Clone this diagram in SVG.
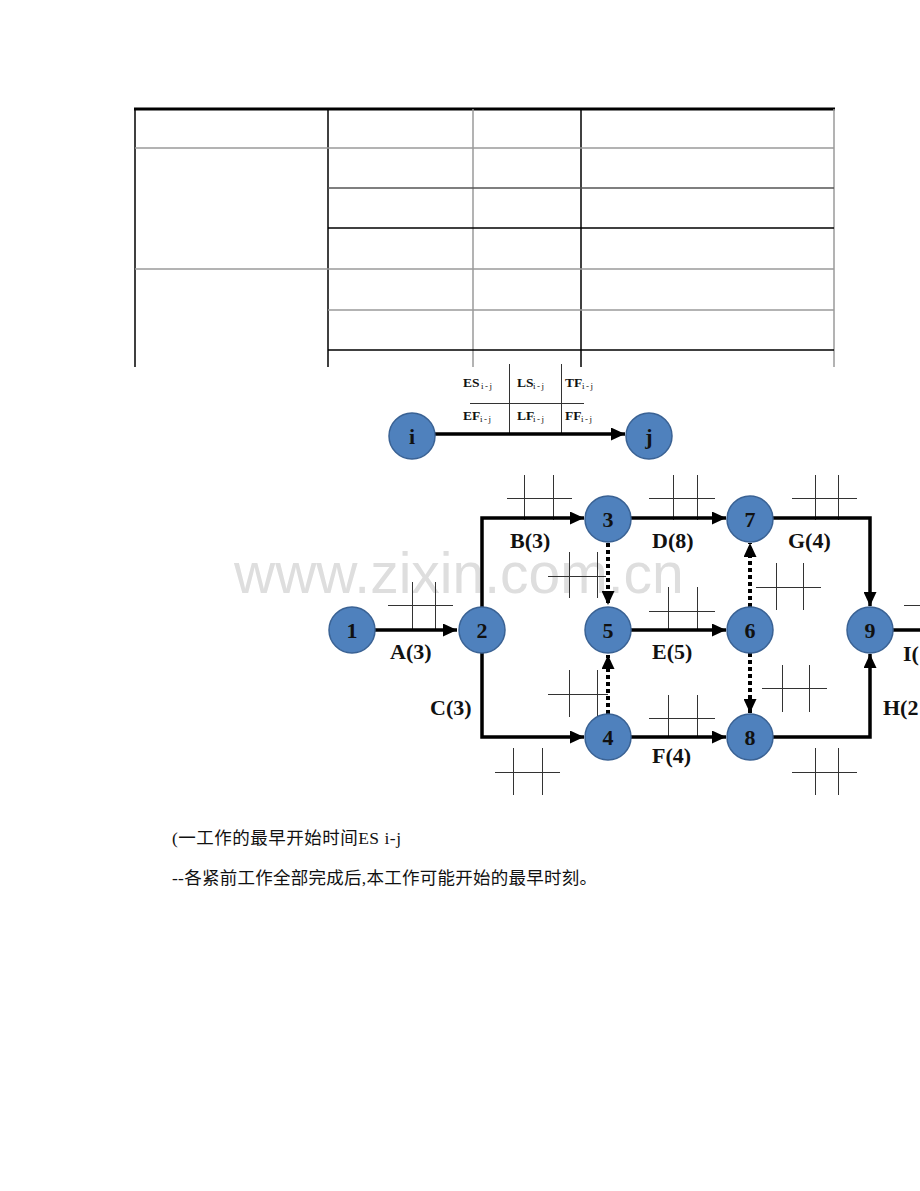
<svg xmlns="http://www.w3.org/2000/svg" width="920" height="1191" viewBox="0 0 920 1191">
<style>
.tb{stroke:#000;stroke-width:1.5;fill:none}
.tg{stroke:#9a9a9a;stroke-width:1.5;fill:none}
.grid{stroke:#333;stroke-width:1;fill:none;shape-rendering:crispEdges}
.edge{stroke:#000;stroke-width:3.5;fill:none;marker-end:url(#ah)}
.dot{stroke:#000;stroke-width:4;fill:none;stroke-dasharray:4 3;marker-end:url(#ah)}
.node{fill:#4f81bd;stroke:#3a6294;stroke-width:1.5}
.nl{font-family:"Liberation Serif","Times New Roman",serif;font-weight:bold;font-size:22px;fill:#111;text-anchor:middle}
.el{font-family:"Liberation Serif","Times New Roman",serif;font-weight:bold;font-size:22px;fill:#111}
.lg{font-family:"Liberation Serif","Times New Roman",serif;font-size:13.5px;fill:#111;font-weight:bold}
.sb{font-family:"Liberation Serif","Times New Roman",serif;font-size:9px;fill:#111}
.cn{font-family:"Liberation Serif","Noto Sans CJK SC",serif;font-size:17.5px;fill:#111}
.wm{font-family:"Liberation Sans",Arial,sans-serif;font-size:57px;fill:#dedede}
</style>
<defs>
<marker id="ah" markerUnits="userSpaceOnUse" markerWidth="14" markerHeight="13" refX="14" refY="6.5" orient="auto">
<path d="M0,0 L14,6.5 L0,13 z" fill="#000"/>
</marker>
</defs>
<rect width="920" height="1191" fill="#fff"/>

<g id="table">
<line x1="134" y1="109" x2="835" y2="109" stroke="#000" stroke-width="3"/>
<line class="tb" x1="135" y1="109" x2="135" y2="367"/>
<line class="tb" x1="328" y1="109" x2="328" y2="367"/>
<line class="tg" x1="473" y1="109" x2="473" y2="367"/>
<line class="tb" x1="581" y1="109" x2="581" y2="367"/>
<line class="tg" x1="834" y1="109" x2="834" y2="367"/>
<line class="tg" x1="135" y1="148" x2="834" y2="148"/>
<line x1="328" y1="188" x2="834" y2="188" stroke="#555" stroke-width="1.5"/>
<line class="tb" x1="328" y1="228" x2="834" y2="228"/>
<line class="tg" x1="135" y1="269" x2="834" y2="269"/>
<line class="tg" x1="328" y1="310" x2="834" y2="310"/>
<line class="tb" x1="328" y1="350" x2="834" y2="350"/>
</g>

<text class="wm" x="234" y="593">www.zixin.com.cn</text>

<g id="legend">
<line class="grid" x1="509" y1="364" x2="509" y2="435"/>
<line class="grid" x1="561" y1="364" x2="561" y2="435"/>
<line class="grid" x1="470" y1="403" x2="584" y2="403"/>
<text class="lg" x="463" y="387">ES</text><text class="sb" x="481" y="389" textLength="11">i-j</text>
<text class="lg" x="517" y="387">LS</text><text class="sb" x="533" y="389" textLength="11">i-j</text>
<text class="lg" x="565" y="387">TF</text><text class="sb" x="582" y="389" textLength="11">i-j</text>
<text class="lg" x="463" y="420">EF</text><text class="sb" x="480" y="422" textLength="11">i-j</text>
<text class="lg" x="517" y="420">LF</text><text class="sb" x="533" y="422" textLength="11">i-j</text>
<text class="lg" x="565" y="420">FF</text><text class="sb" x="581" y="422" textLength="11">i-j</text>
<path class="edge" d="M435,434 H625"/>
<g id="node-i"><circle class="node" cx="412" cy="436" r="23"/><text class="nl" x="412" y="444">i</text></g>
<g id="node-j"><circle class="node" cx="649" cy="436" r="23"/><text class="nl" x="649" y="444">j</text></g>
</g>

<g id="grids" class="grid">
<path d="M412,582 V630 M435,582 V630 M388,605 H453"/>
<path d="M524,475 V520 M553,475 V520 M507,498 H572"/>
<path d="M569,552 V598 M597,552 V598 M548,576 H606"/>
<path d="M569,670 V717 M597,670 V717 M548,694 H608"/>
<path d="M513,748 V795 M542,748 V795 M495,772 H560"/>
<path d="M673,475 V520 M697,475 V520 M649,498 H715"/>
<path d="M815,475 V520 M838,475 V520 M792,498 H857"/>
<path d="M776,563 V610 M803,563 V610 M756,587 H821"/>
<path d="M668,587 V630 M697,587 V630 M649,611 H715"/>
<path d="M782,665 V712 M809,665 V712 M762,688 H827"/>
<path d="M668,695 V737 M697,695 V737 M649,718 H715"/>
<path d="M815,748 V795 M838,748 V795 M792,772 H857"/>
<path d="M904,605 H920"/>
</g>

<g id="connectors">
<path class="edge" d="M375,630 H457"/>
<path class="edge" d="M482,607 V518 H584"/>
<path class="edge" d="M482,653 V737 H584"/>
<path class="edge" d="M631,518 H726"/>
<path class="edge" d="M631,630 H726"/>
<path class="edge" d="M631,737 H726"/>
<path class="edge" d="M773,518 H870 V606"/>
<path class="edge" d="M773,737 H870 V654"/>
<path d="M893,630 H920" stroke="#000" stroke-width="3.5" fill="none"/>
<path class="dot" d="M608,543 V605"/>
<path class="dot" d="M608,714 V655"/>
<path class="dot" d="M750,607 V543"/>
<path class="dot" d="M750,653 V713"/>
</g>

<g id="node-1"><circle class="node" cx="352" cy="630" r="23"/><text class="nl" x="352" y="638">1</text></g>
<g id="node-2"><circle class="node" cx="482" cy="630" r="23"/><text class="nl" x="482" y="638">2</text></g>
<g id="node-3"><circle class="node" cx="608" cy="519" r="23"/><text class="nl" x="608" y="527">3</text></g>
<g id="node-5"><circle class="node" cx="608" cy="630" r="23"/><text class="nl" x="608" y="638">5</text></g>
<g id="node-4"><circle class="node" cx="608" cy="737" r="23"/><text class="nl" x="608" y="745">4</text></g>
<g id="node-7"><circle class="node" cx="750" cy="519" r="23"/><text class="nl" x="750" y="527">7</text></g>
<g id="node-6"><circle class="node" cx="750" cy="630" r="23"/><text class="nl" x="750" y="638">6</text></g>
<g id="node-8"><circle class="node" cx="750" cy="737" r="23"/><text class="nl" x="750" y="745">8</text></g>
<g id="node-9"><circle class="node" cx="870" cy="630" r="23"/><text class="nl" x="870" y="638">9</text></g>

<g id="edge-labels">
<text class="el" x="390" y="659">A(3)</text>
<text class="el" x="510" y="548">B(3)</text>
<text class="el" x="430" y="715">C(3)</text>
<text class="el" x="652" y="548">D(8)</text>
<text class="el" x="788" y="548">G(4)</text>
<text class="el" x="652" y="659">E(5)</text>
<text class="el" x="652" y="763">F(4)</text>
<text class="el" x="883" y="715">H(2</text>
<text class="el" x="903" y="661">I(</text>
</g>

<text class="cn" x="172" y="844" textLength="229" lengthAdjust="spacing">(一工作的最早开始时间ES i-j</text>
<text class="cn" x="172" y="884" textLength="425" lengthAdjust="spacing">--各紧前工作全部完成后,本工作可能开始的最早时刻。</text>
</svg>
